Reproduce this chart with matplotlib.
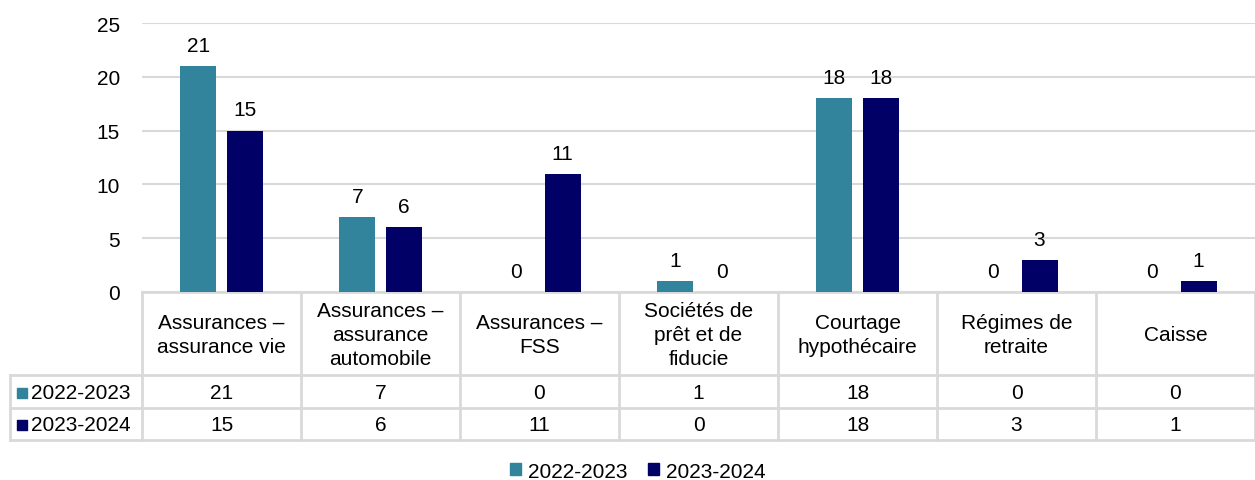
import matplotlib.pyplot as plt
from matplotlib.lines import Line2D
from matplotlib.transforms import blended_transform_factory
import numpy as np

plt.rcParams['font.family'] = ['Liberation Sans', 'DejaVu Sans']

# DATA
categories = ["Assurances –\nassurance vie", "Assurances –\nassurance\nautomobile",
              "Assurances –\nFSS", "Sociétés de\nprêt et de\nfiducie",
              "Courtage\nhypothécaire", "Régimes de\nretraite", "Caisse"]
series_names = ["2022-2023", "2023-2024"]
vals_2223 = [21, 7, 0, 1, 18, 0, 0]
vals_2324 = [15, 6, 11, 0, 18, 3, 1]
y_ticks = [0, 5, 10, 15, 20, 25]

colors = ['#31849B', '#000066']
grid_col = '#D9D9D9'
W, H = 1255, 481
fs = 15

fig = plt.figure(figsize=(W / 100, H / 100), dpi=100)
# overlay in pixel coords for the table
ov = fig.add_axes([0, 0, 1, 1])
ov.set_xlim(0, W)
ov.set_ylim(H, 0)
ov.axis('off')

left, right, top, base = 142, 1255, 24, 293
ax = fig.add_axes([left / W, 1 - base / H, (right - left) / W, (base - top) / H])
ax.patch.set_alpha(0)

x = np.arange(len(categories))
bw = 0.227
off = 0.145
for vals, c, d in [(vals_2223, colors[0], -off), (vals_2324, colors[1], off)]:
    ax.bar(x + d, vals, width=bw, color=c, zorder=3)
    for xi, v in zip(x + d, vals):
        ax.annotate(str(v), (xi, v), xytext=(0, 8), textcoords='offset points',
                    ha='center', va='bottom', fontsize=fs)

ax.set_xlim(-0.5, len(categories) - 0.5)
ax.set_ylim(0, 25)
ax.set_yticks(y_ticks)
ax.tick_params(axis='y', length=0, pad=16, labelsize=fs)
ax.set_xticks([])
ax.yaxis.grid(True, color=grid_col, lw=1.5, zorder=0)
for s in ax.spines.values():
    s.set_visible(False)

# table
bt = blended_transform_factory(ax.transData, ov.transData)
row_lines = [376, 409, 441]
lw = 2
ov.add_line(Line2D([left, W], [base, base], color=grid_col, lw=lw))
for yy in row_lines:
    ov.add_line(Line2D([10, W], [yy, yy], color=grid_col, lw=lw))
ov.add_line(Line2D([10, 10], [row_lines[0], row_lines[-1]], color=grid_col, lw=lw))
for i in range(len(categories) + 1):
    ov.plot([i - 0.5, i - 0.5], [base, row_lines[-1]], color=grid_col, lw=lw, transform=bt)

for i, cat in enumerate(categories):
    ov.text(i, (base + row_lines[0]) / 2 + 1, cat, transform=bt, ha='center', va='center',
            fontsize=fs, linespacing=1.35)
    ov.text(i, (row_lines[0] + row_lines[1]) / 2 + 1, str(vals_2223[i]), transform=bt,
            ha='center', va='center', fontsize=fs)
    ov.text(i, (row_lines[1] + row_lines[2]) / 2 + 1, str(vals_2324[i]), transform=bt,
            ha='center', va='center', fontsize=fs)

for k, name in enumerate(series_names):
    yc = (row_lines[k] + row_lines[k + 1]) / 2 + 1
    ov.scatter([22], [yc], marker='s', s=60, color=colors[k])
    ov.text(31, yc, name, ha='left', va='center', fontsize=fs)

# legend
handles = [plt.Rectangle((0, 0), 1, 1, color=c) for c in colors]
fig.legend(handles, series_names, loc='center', bbox_to_anchor=(0.508, 1 - 472 / H),
           ncol=2, frameon=False, fontsize=fs, handlelength=0.55, handleheight=0.55,
           handletextpad=0.3, columnspacing=1.0)

fig.savefig('out.png', dpi=100)
